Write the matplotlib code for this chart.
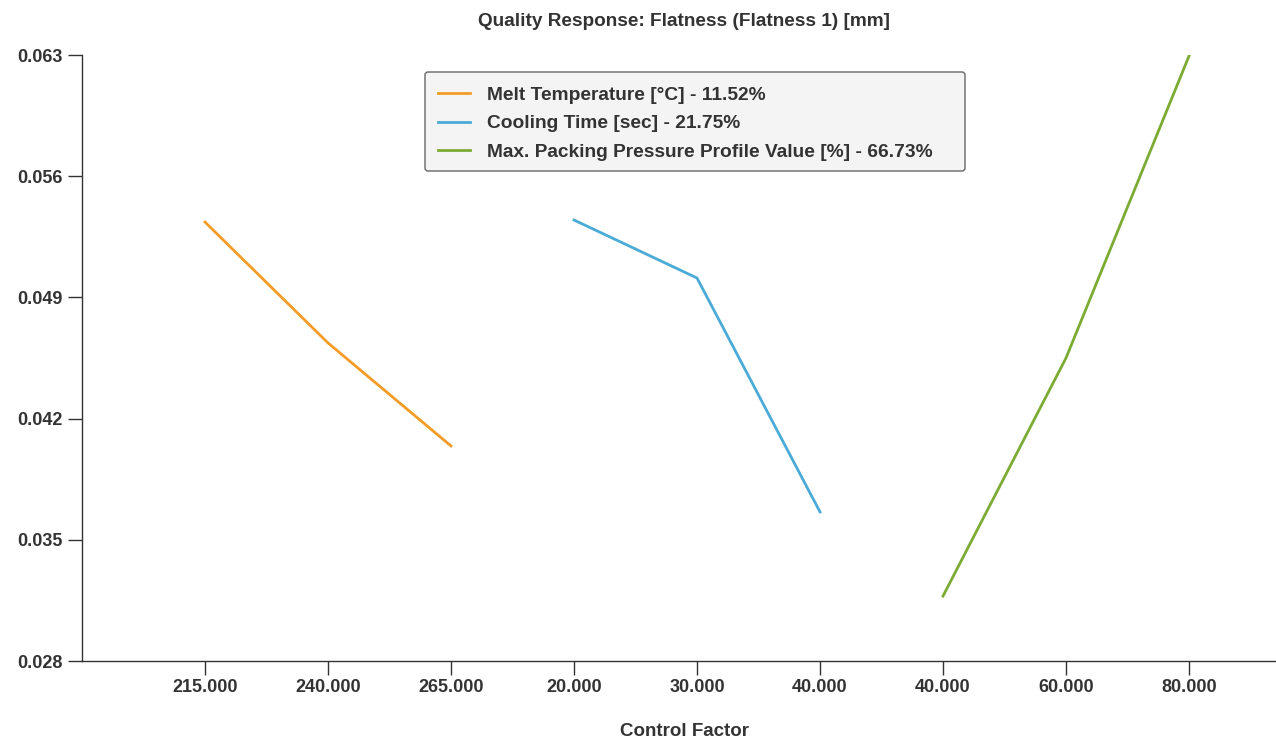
import matplotlib
matplotlib.use("Agg")
import matplotlib.pyplot as plt
from matplotlib.patches import FancyBboxPatch
from matplotlib.transforms import IdentityTransform

plt.rcParams['font.family'] = ['Liberation Sans', 'DejaVu Sans']
plt.rcParams['font.weight'] = 'bold'

tick_labels = ["215.000", "240.000", "265.000", "20.000", "30.000", "40.000",
               "40.000", "60.000", "80.000"]
melt_vals = [0.05335, 0.04637, 0.04042]
cool_vals = [0.05347, 0.05012, 0.03661]
pack_vals = [0.03175, 0.04550, 0.06294]
series_names = ["Melt Temperature [°C] - 11.52%",
                "Cooling Time [sec] - 21.75%",
                "Max. Packing Pressure Profile Value [%] - 66.73%"]
colors = ["#F39C28", "#4AABD6", "#7CAB34"]
y_ticks = [0.028, 0.035, 0.042, 0.049, 0.056, 0.063]

W, H = 1276, 740
fig = plt.figure(figsize=(W/100, H/100), dpi=100)
ax = fig.add_axes([82/W, 1-661/H, 1-82/W, (661-55)/H])

for i, (vals, name, c) in enumerate(zip([melt_vals, cool_vals, pack_vals], series_names, colors)):
    xs = [1 + 3*i + k for k in range(len(vals))]
    ax.plot(xs, vals, color=c, lw=2, label=name, solid_joinstyle='round')

ax.set_xlim(0, (W-82)/123)
ax.set_ylim(0.028, 0.063)
ax.set_xticks(range(1, 10))
ax.set_xticklabels(tick_labels)
ax.set_yticks(y_ticks)
ax.set_yticklabels([f"{v:.3f}" for v in y_ticks])
ax.tick_params(axis='both', labelsize=13, colors='#333333', length=10, width=1)
ax.tick_params(axis='x', pad=3)
ax.tick_params(axis='y', pad=4)
for lab in ax.get_xticklabels() + ax.get_yticklabels():
    lab.set_fontweight('bold')
for s in ['top', 'right']:
    ax.spines[s].set_visible(False)
for s in ['left', 'bottom']:
    ax.spines[s].set_color('#333333')
    ax.spines[s].set_linewidth(1)

fig.text(684/W, 1-731/H, "Control Factor", ha='center', va='center',
         fontsize=13.5, fontweight='bold', color='#333333')
fig.text(684/W, 1-21/H, "Quality Response: Flatness (Flatness 1) [mm]",
         ha='center', va='center', fontsize=13.7, fontweight='bold', color='#333333')

leg = ax.legend(loc='upper left', bbox_to_anchor=(426/W, 1-75/H),
                bbox_transform=fig.transFigure, fontsize=13.8, frameon=False,
                handlelength=1.7, handletextpad=0.87, borderpad=0.6,
                labelspacing=0.58, borderaxespad=0)
for t in leg.get_texts():
    t.set_color('#333333')
    t.set_fontweight('bold')

frame = FancyBboxPatch((425, H-171), 540, 99,
                       boxstyle="round,pad=0,rounding_size=3",
                       transform=IdentityTransform(), facecolor='#F4F4F4',
                       edgecolor='#666666', linewidth=1, zorder=4.5, clip_on=False)
ax.add_patch(frame)

fig.savefig("out.png", dpi=100)
